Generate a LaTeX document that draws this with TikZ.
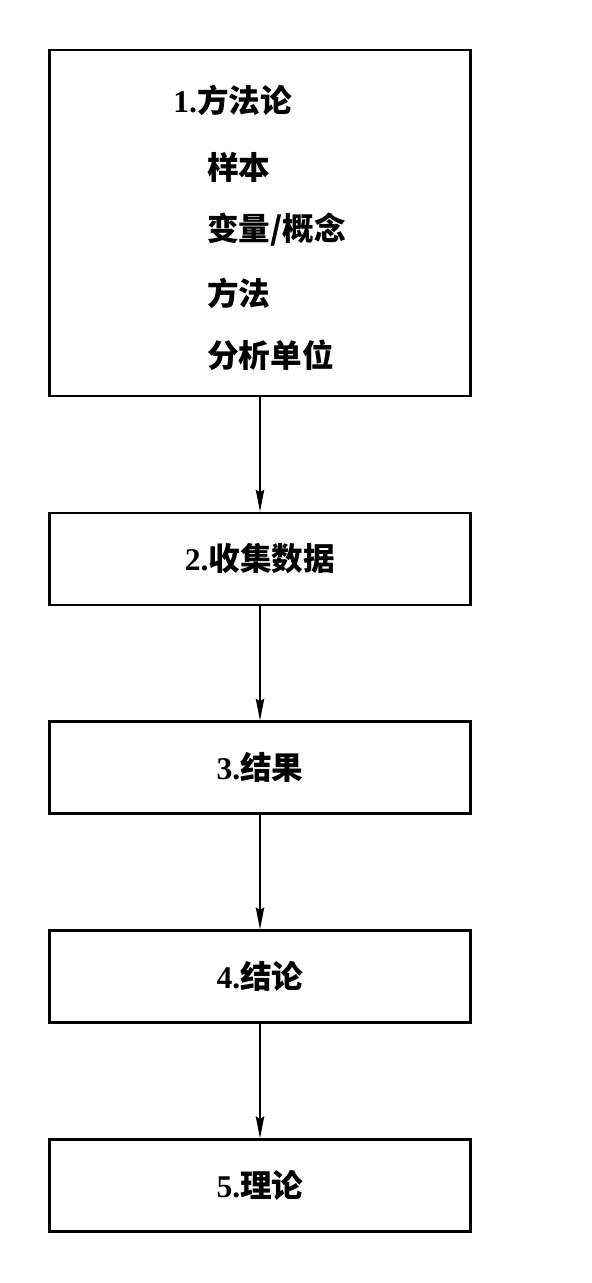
\documentclass[tikz,border=0pt]{standalone}
\usepackage{fontspec}
\setmainfont{Liberation Serif}
\newfontfamily\cjk{Noto Sans CJK SC}
\usetikzlibrary{positioning, arrows.meta}

\begin{document}
\begin{tikzpicture}[
  node distance=2.285cm,
  stagebox/.style={draw, line width=1.5pt, minimum width=8.42cm, minimum height=1.84cm,
                   font=\fontsize{18}{21}\selectfont\bfseries},
  item/.style={anchor=west, inner sep=0pt, font=\fontsize{18}{21}\selectfont\bfseries},
  arrow/.style={-{Stealth[length=4.4mm, width=1.7mm, inset=0.6mm]}, line width=0.7pt}
]
  \useasboundingbox (0,0) rectangle (11.82,-25.66);

  \node[stagebox, minimum height=6.92cm] (method) at (5.2,-4.46) {};
  \node[item] (title) at (3.46,-2.0) {1.{\cjk 方法论}};
  \node[item] (sample) at (4.14,-3.34) {\cjk 样本};
  \node[item] (variable) at (4.14,-4.6) {\cjk 变量/概念};
  \node[item] (approach) at (4.14,-5.86) {\cjk 方法};
  \node[item] (unit) at (4.14,-7.1) {\cjk 分析单位};

  \node[stagebox, below=of method] (collect) {2.{\cjk 收集数据}};
  \node[stagebox, below=of collect] (result) {3.{\cjk 结果}};
  \node[stagebox, below=of result] (conclusion) {4.{\cjk 结论}};
  \node[stagebox, below=of conclusion] (theory) {5.{\cjk 理论}};

  \draw[arrow] (method) -- (collect);
  \draw[arrow] (collect) -- (result);
  \draw[arrow] (result) -- (conclusion);
  \draw[arrow] (conclusion) -- (theory);
\end{tikzpicture}
\end{document}
